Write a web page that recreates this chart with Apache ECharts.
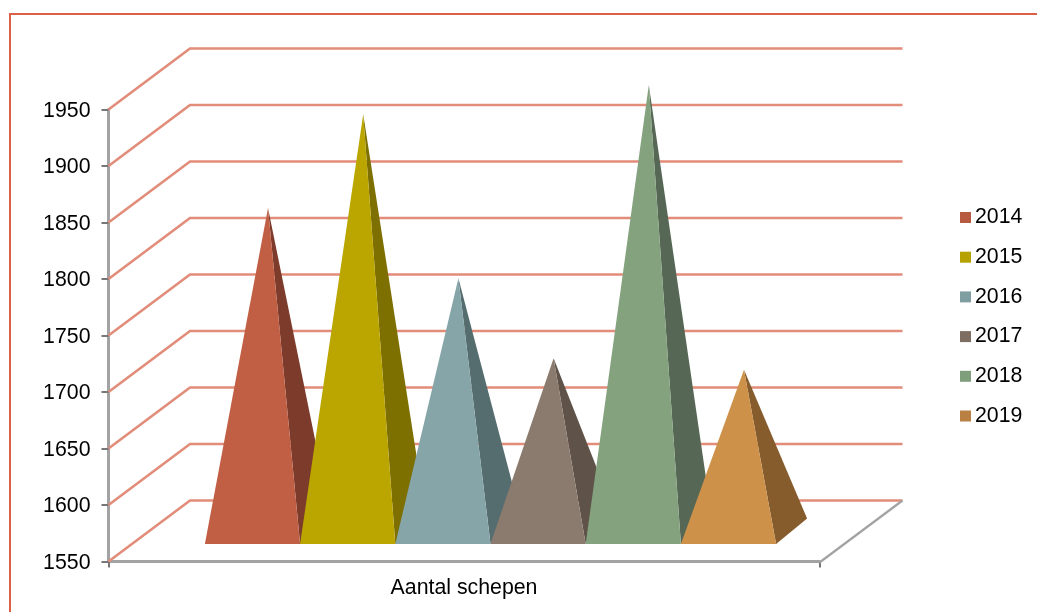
<!DOCTYPE html>
<html><head><meta charset="utf-8">
<style>html,body{margin:0;padding:0;background:#fff}#c{width:1037px;height:612px;filter:blur(0.45px)}</style>
<script src="https://cdn.jsdelivr.net/npm/echarts@6/dist/echarts.min.js"></script>
</head><body><div id="c"></div>
<script>
const categories = ['Aantal schepen'];
const years = ['2014','2015','2016','2017','2018','2019'];
const shipCounts = [1836,1919,1774,1703,1945,1693];
const yTicks = [1550,1600,1650,1700,1750,1800,1850,1900,1950];
const legendColors = ['#B85A40','#B5A200','#7F9EA2','#7E6E62','#7F9F7C','#B97F43'];
const faceColors = ['#C15F45','#BBA600','#86A5A9','#8B7B6E','#84A27E','#CD9149'];
const sideColors = ['#7D3B2B','#7D6F00','#566D70','#5E5249','#566855','#875C2D'];

const yMin = 1550, yMax = 1950;
const DX = 81.5, DX_RIGHT = 83, DY = 61;   // depth vector of the 3D box
const FRONT_Y = 17.5, BASE_DX = 31, BASE_DY = 25.5;
const GROUP_SHIFT = 26.5, BAR_W = 95.2;
const font = '"Liberation Sans", Arial, sans-serif';

function renderWall(params, api) {
  const s = params.coordSys;
  const y = api.coord([0, api.value(1)])[1];
  const left = s.x, right = s.x + s.width;
  return {
    type: 'polyline',
    shape: { points: [[left, y], [left + DX, y - DY], [right + DX_RIGHT, y - DY]] },
    style: { fill: null, stroke: '#E28C7A', lineWidth: 2.6, lineJoin: 'miter' }
  };
}
function renderFloor(params, api) {
  const s = params.coordSys;
  const y = s.y + s.height, right = s.x + s.width;
  return {
    type: 'line',
    shape: { x1: right, y1: y + 1, x2: right + DX_RIGHT, y2: y - DY },
    style: { stroke: '#A3A3A3', lineWidth: 2.2 }
  };
}
function renderPyramid(i) {
  return function (params, api) {
    const s = params.coordSys;
    const top = api.coord([0, api.value(1)]);
    const floorY = api.coord([0, yMin])[1];
    const cx = s.x + s.width / 2 + GROUP_SHIFT + (i - (years.length - 1) / 2) * BAR_W;
    const y0 = floorY - FRONT_Y;
    const fl = [cx - BAR_W / 2, y0], fr = [cx + BAR_W / 2, y0];
    const br = [fr[0] + BASE_DX, y0 - BASE_DY];
    const apex = [cx + BASE_DX / 2, top[1] - FRONT_Y - BASE_DY / 2];
    return {
      type: 'group',
      children: [
        { type: 'polygon', shape: { points: [fr, br, apex] }, style: { fill: sideColors[i] } },
        { type: 'polygon', shape: { points: [fl, fr, apex] }, style: { fill: faceColors[i] } }
      ]
    };
  };
}

const chart = echarts.init(document.getElementById('c'), null, { renderer: 'canvas' });
chart.setOption({
  animation: false,
  backgroundColor: '#fff',
  textStyle: { fontFamily: font },
  grid: { left: 108.5, top: 109.5, width: 711, height: 452, containLabel: false },
  xAxis: {
    type: 'category', data: categories, boundaryGap: true,
    axisLine: { lineStyle: { color: '#A3A3A3', width: 3 } },
    axisTick: { show: true, length: 6, inside: false, lineStyle: { color: '#777', width: 2 } },
    axisLabel: { color: '#000', fontSize: 21.3, fontFamily: font, margin: 16 }
  },
  yAxis: {
    type: 'value', min: yMin, max: yMax, interval: 50,
    axisLine: { show: true, lineStyle: { color: '#A3A3A3', width: 3 } },
    axisTick: { show: true, length: 7, lineStyle: { color: '#777', width: 2 } },
    axisLabel: { color: '#000', fontSize: 21.3, fontFamily: font, margin: 18, verticalAlign: 'top', lineHeight: 3,
      formatter: v => String(v) },
    splitLine: { show: false }
  },
  legend: {
    orient: 'vertical', left: 955, top: 202, itemWidth: 11, itemHeight: 11, itemGap: 18.7,
    icon: 'rect', data: years, selectedMode: false,
    textStyle: { color: '#000', fontSize: 21.3, fontFamily: font, padding: [0, 0, 0, -1] }
  },
  graphic: [{
    type: 'polyline', silent: true,
    shape: { points: [[10, 612], [10, 14], [1037, 14]] },
    style: { fill: null, stroke: '#DB6047', lineWidth: 2 }
  }],
  series: [
    { type: 'custom', name: 'wall', coordinateSystem: 'cartesian2d', clip: false, z: 1,
      data: yTicks.map(v => [0, v]), encode: { x: 0, y: 1 }, renderItem: renderWall, silent: true },
    { type: 'custom', name: 'floor', coordinateSystem: 'cartesian2d', clip: false, z: 1,
      data: [[0, yMin]], encode: { x: 0, y: 1 }, renderItem: renderFloor, silent: true }
  ].concat(years.map((y, i) => ({
    type: 'custom', name: y, coordinateSystem: 'cartesian2d', clip: false, z: 2 + i,
    itemStyle: { color: legendColors[i] },
    data: [[0, shipCounts[i]]], encode: { x: 0, y: 1 }, renderItem: renderPyramid(i)
  })))
});
</script></body></html>
